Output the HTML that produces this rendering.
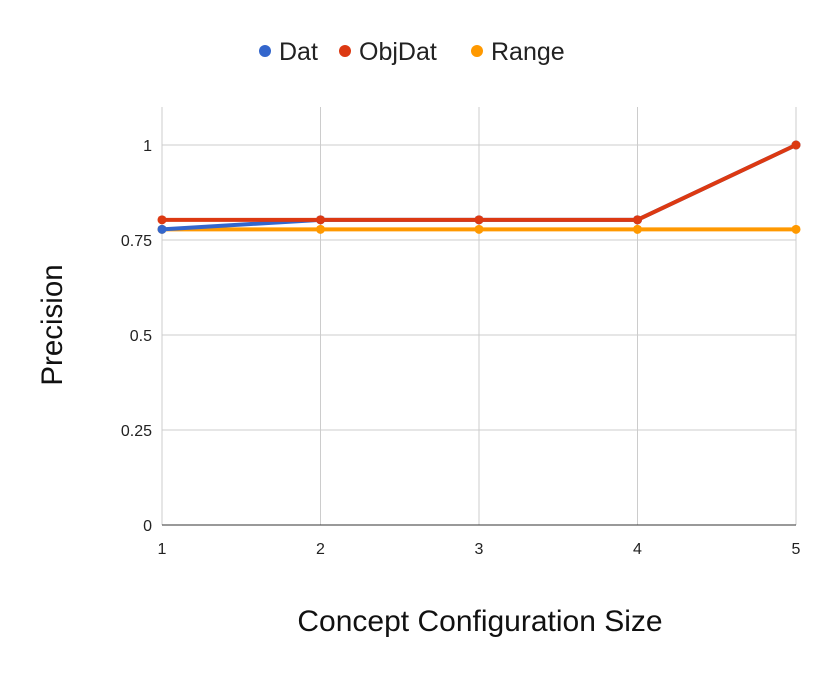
<!DOCTYPE html>
<html><head><meta charset="utf-8"><style>
body{margin:0;background:#fff;font-family:"Liberation Sans",Roboto,sans-serif}
</style></head><body>
<svg id="chart" width="830" height="673" xmlns="http://www.w3.org/2000/svg"></svg>
<script>
const categories=[1,2,3,4,5];
const datValues=[0.778,0.803,0.803,0.803,1];
const objDatValues=[0.803,0.803,0.803,0.803,1];
const rangeValues=[0.778,0.778,0.778,0.778,0.778];
const yTicks=[0,0.25,0.5,0.75,1];
const yTickLabels=["0","0.25","0.5","0.75","1"];
const NS="http://www.w3.org/2000/svg";
const svg=document.getElementById('chart');
const X=v=>162+(v-1)*(796-162)/4;
const Y=v=>525-v*380;
function mk(t,a,p){const e=document.createElementNS(NS,t);for(const k in a)e.setAttribute(k,a[k]);(p||svg).appendChild(e);return e;}
yTicks.forEach((t,i)=>{
 if(t>0){const l=mk('line',{x1:162,x2:796,y1:Y(t),y2:Y(t),stroke:'#ccc','stroke-width':1});
 
 }
 const tx=mk('text',{x:152,y:Y(t)+6,'text-anchor':'end','font-size':16,fill:'#222'});
 tx.textContent=yTickLabels[i];
 
 
});
categories.forEach(c=>{
 const l=mk('line',{x1:X(c),x2:X(c),y1:Y(1.1),y2:525,stroke:'#ccc','stroke-width':1});
 
 
 const tx=mk('text',{x:X(c),y:554,'text-anchor':'middle','font-size':16,fill:'#222'});
 tx.textContent=c;
 
 
});
const ax=mk('line',{x1:162,x2:796,y1:525,y2:525,stroke:'#333','stroke-width':1});


function series(vals,color,name){
 const g=mk('g',{});
 
 
 mk('polyline',{points:vals.map((v,i)=>X(categories[i])+','+Y(v)).join(' '),fill:'none',stroke:color,'stroke-width':4,'stroke-linejoin':'round'},g);
 vals.forEach((v,i)=>{const c=mk('circle',{cx:X(categories[i]),cy:Y(v),r:4.5,fill:color},g);
 
 });
}
series(rangeValues,'#ff9900','range');
series(datValues,'#3366cc','dat');
series(objDatValues,'#dc3912','objdat');
const leg=[['Dat','#3366cc',265],['ObjDat','#dc3912',345],['Range','#ff9900',477]];
leg.forEach(([n,c,x])=>{
 const g=mk('g',{});
 
 
 mk('circle',{cx:x,cy:51,r:6,fill:c},g);
 const t=mk('text',{x:x+14,y:60,'font-size':25,fill:'#222'},g);t.textContent=n;
});
const xt=mk('text',{x:480,y:631,'text-anchor':'middle','font-size':30,fill:'#111'});
xt.textContent='Concept Configuration Size';


const yt=mk('text',{x:0,y:0,'text-anchor':'middle','font-size':29.5,fill:'#111',transform:'translate(62,325) rotate(-90)'});
yt.textContent='Precision';


</script>
</body></html>
